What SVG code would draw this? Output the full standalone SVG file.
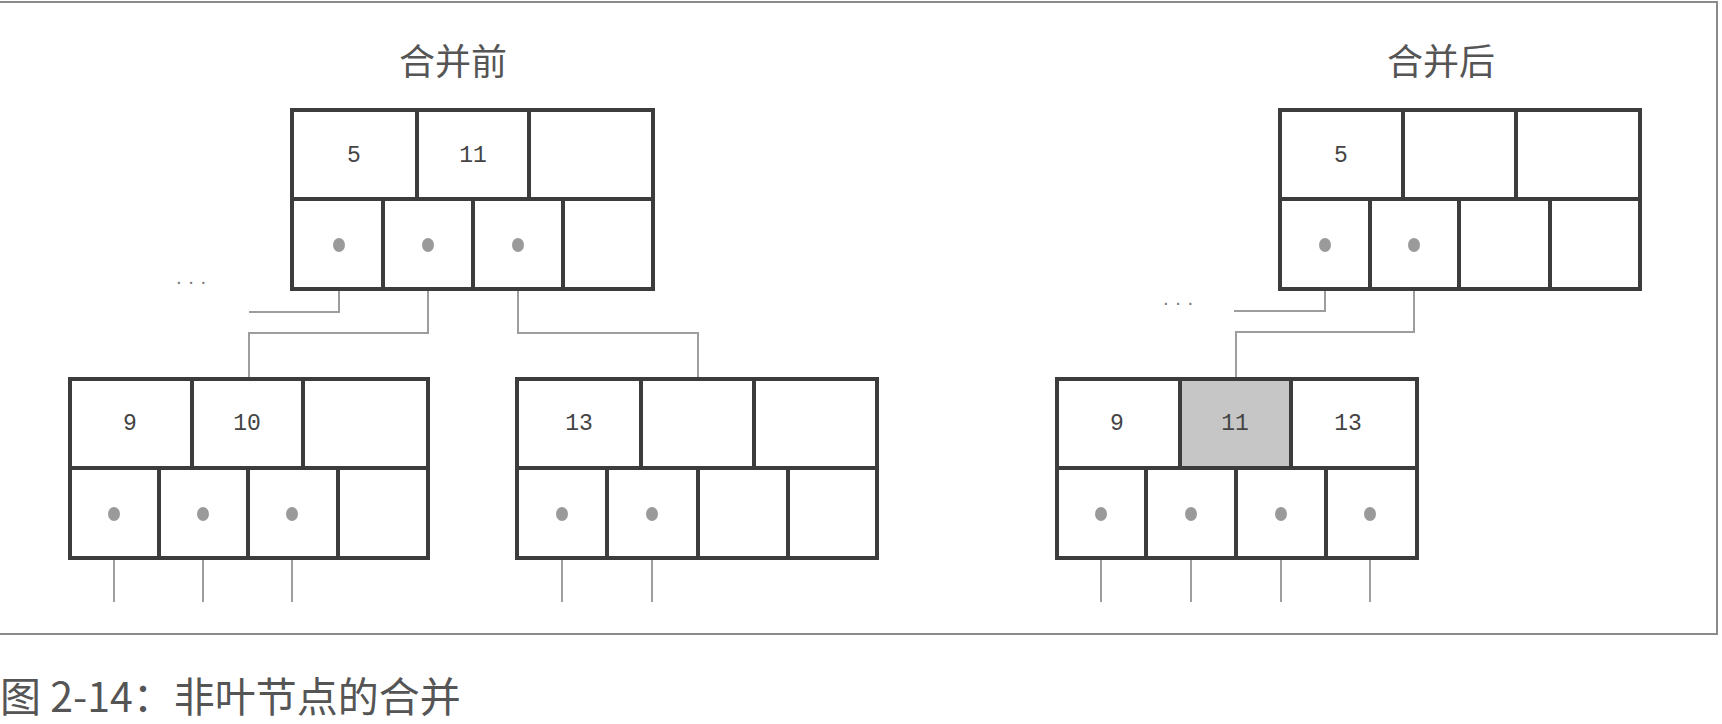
<svg xmlns="http://www.w3.org/2000/svg" width="1722" height="724" viewBox="0 0 1722 724">
<style>
.frame{fill:none;stroke:#8a8a8a;stroke-width:2}
.box{fill:#fff;stroke:#3c3c3c;stroke-width:4}
.div{stroke:#3c3c3c;stroke-width:4;fill:none}
.shade{fill:#c6c6c6}
.num{font-family:"Liberation Mono","DejaVu Sans Mono",monospace;font-size:23px;fill:#444;text-anchor:middle}
.title{font-family:"Noto Sans CJK SC","Noto Sans",sans-serif;font-size:36px;fill:#555;text-anchor:middle}
.cap{font-family:"Noto Sans CJK SC","Noto Sans",sans-serif;font-size:41px;fill:#555}
.dot{fill:#9a9a9a}
.conn{fill:none;stroke:#9d9d9d;stroke-width:2}
.dots{font-family:"Liberation Sans",sans-serif;font-size:20px;fill:#777}
</style>
<rect width="1722" height="724" fill="#fff"/>
<path class="frame" d="M0 2 H1717 V634 H0"/>
<text class="title" x="453" y="75">合并前</text>
<text class="title" x="1441" y="75">合并后</text>
<text class="dots" x="191" y="288" text-anchor="middle">· · ·</text>
<text class="dots" x="1178" y="309" text-anchor="middle">· · ·</text>

<g id="connectors">
<path class="conn" d="M339 245 V312 H249"/>
<path class="conn" d="M428 245 V333 H249 V379"/>
<path class="conn" d="M518 245 V333 H698 V379"/>
<path class="conn" d="M114 514 V602"/>
<path class="conn" d="M203 514 V602"/>
<path class="conn" d="M292 514 V602"/>
<path class="conn" d="M562 514 V602"/>
<path class="conn" d="M652 514 V602"/>
<path class="conn" d="M1325 245 V311 H1234"/>
<path class="conn" d="M1414 245 V332 H1236 V379"/>
<path class="conn" d="M1101 514 V602"/>
<path class="conn" d="M1191 514 V602"/>
<path class="conn" d="M1281 514 V602"/>
<path class="conn" d="M1370 514 V602"/>
</g>

<g id="node-top-before">
<rect class="box" x="292" y="110" width="361" height="179"/>
<path class="div" d="M292 199 H653 M417 110 V199 M529 110 V199 M383 199 V289 M473 199 V289 M563 199 V289"/>
<text class="num" x="354" y="162">5</text>
<text class="num" x="473" y="162">11</text>
<ellipse class="dot" cx="339" cy="245" rx="6" ry="7"/>
<ellipse class="dot" cx="428" cy="245" rx="6" ry="7"/>
<ellipse class="dot" cx="518" cy="245" rx="6" ry="7"/>
</g>

<g id="node-left-before">
<rect class="box" x="70" y="379" width="358" height="179"/>
<path class="div" d="M70 468 H428 M192 379 V468 M303 379 V468 M159 468 V558 M248 468 V558 M338 468 V558"/>
<text class="num" x="130" y="430">9</text>
<text class="num" x="247" y="430">10</text>
<ellipse class="dot" cx="114" cy="514" rx="6" ry="7"/>
<ellipse class="dot" cx="203" cy="514" rx="6" ry="7"/>
<ellipse class="dot" cx="292" cy="514" rx="6" ry="7"/>
</g>

<g id="node-mid-before">
<rect class="box" x="517" y="379" width="360" height="179"/>
<path class="div" d="M517 468 H877 M641 379 V468 M754 379 V468 M607 468 V558 M698 468 V558 M788 468 V558"/>
<text class="num" x="579" y="430">13</text>
<ellipse class="dot" cx="562" cy="514" rx="6" ry="7"/>
<ellipse class="dot" cx="652" cy="514" rx="6" ry="7"/>
</g>

<g id="node-top-after">
<rect class="box" x="1280" y="110" width="360" height="179"/>
<path class="div" d="M1280 199 H1640 M1403 110 V199 M1516 110 V199 M1370 199 V289 M1459 199 V289 M1550 199 V289"/>
<text class="num" x="1341" y="162">5</text>
<ellipse class="dot" cx="1325" cy="245" rx="6" ry="7"/>
<ellipse class="dot" cx="1414" cy="245" rx="6" ry="7"/>
</g>

<g id="node-merged-after">
<rect class="box" x="1057" y="379" width="360" height="179"/>
<rect class="shade" x="1182" y="381" width="107" height="85"/>
<path class="div" d="M1057 468 H1417 M1180 379 V468 M1291 379 V468 M1146 468 V558 M1236 468 V558 M1326 468 V558"/>
<text class="num" x="1117" y="430">9</text>
<text class="num" x="1235" y="430">11</text>
<text class="num" x="1348" y="430">13</text>
<ellipse class="dot" cx="1101" cy="514" rx="6" ry="7"/>
<ellipse class="dot" cx="1191" cy="514" rx="6" ry="7"/>
<ellipse class="dot" cx="1281" cy="514" rx="6" ry="7"/>
<ellipse class="dot" cx="1370" cy="514" rx="6" ry="7"/>
</g>

<text class="cap" x="0" y="712">图 2-14：非叶节点的合并</text>
</svg>
